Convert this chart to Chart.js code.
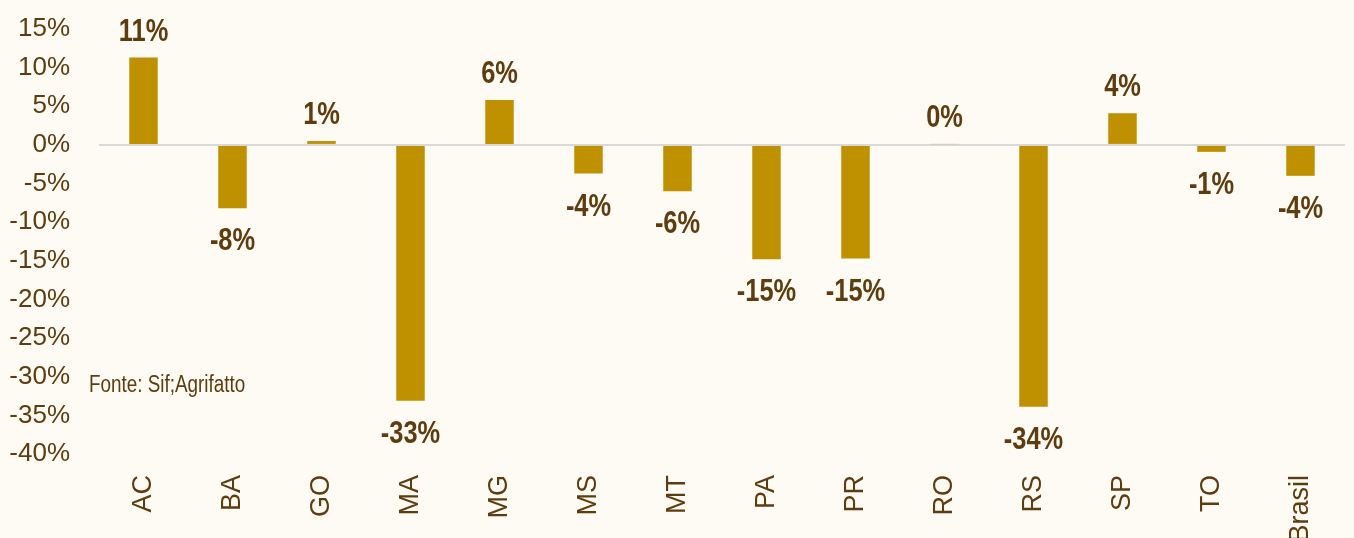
<!DOCTYPE html>
<html>
<head>
<meta charset="utf-8">
<script src="https://cdn.jsdelivr.net/npm/chart.js@4"></script>
<style>
  html, body { margin: 0; padding: 0; background: #FDFBF4; }
  #wrap { width: 1354px; height: 538px; }
</style>
</head>
<body>
<div id="wrap"><canvas id="grafico"></canvas></div>
<script>
// categorias y valores (variacion %)
const estados = ['AC', 'BA', 'GO', 'MA', 'MG', 'MS', 'MT', 'PA', 'PR', 'RO', 'RS', 'SP', 'TO', 'Brasil'];
const variacion = [11.3, -8.2, 0.5, -33.1, 5.8, -3.7, -6.0, -14.8, -14.7, 0.1, -33.9, 4.1, -0.9, -4.0];
const ticksY = [-40, -35, -30, -25, -20, -15, -10, -5, 0, 5, 10, 15];
const fuente = 'Fonte: Sif;Agrifatto';

const MARRON = '#5E3C0E';
const DORADO = '#BF9000';
const FAMILIA = "'Liberation Sans', Arial, sans-serif";
const ANGOSTO = 0.82; // la fuente original es "narrow"

// texto comprimido en horizontal
function textoAngosto(ctx, txt, x, y, align) {
  ctx.save();
  ctx.translate(x, y);
  ctx.scale(ANGOSTO, 1);
  ctx.textAlign = align;
  ctx.fillText(txt, 0, 0);
  ctx.restore();
}

// etiquetas de valor arriba / abajo de cada barra
const etiquetasPlugin = {
  id: 'etiquetas',
  afterDatasetsDraw(chart) {
    const ctx = chart.ctx;
    const meta = chart.getDatasetMeta(0);
    ctx.save();
    ctx.fillStyle = MARRON;
    ctx.font = 'bold 31px ' + FAMILIA;
    ctx.textBaseline = 'alphabetic';
    meta.data.forEach((bar, i) => {
      const v = variacion[i];
      const txt = Math.round(v) + '%';
      const y = v >= 0 ? bar.y - 17 : bar.y + 42;
      textoAngosto(ctx, txt, bar.x, y, 'center');
    });
    // nota de fuente
    ctx.font = '23px ' + FAMILIA;
    ctx.textBaseline = 'middle';
    textoAngosto(ctx, fuente, chart.chartArea.left - 10, chart.scales.y.getPixelForValue(-31.2), 'left');
    ctx.restore();
  }
};

new Chart(document.getElementById('grafico'), {
  type: 'bar',
  data: {
    labels: estados,
    datasets: [{
      data: variacion,
      backgroundColor: DORADO,
      borderWidth: 0,
      barPercentage: 0.32,
      categoryPercentage: 1
    }]
  },
  options: {
    responsive: true,
    maintainAspectRatio: false,
    animation: false,
    layout: { padding: { top: 29, right: 9, bottom: 0, left: 0 } },
    plugins: { legend: { display: false }, tooltip: { enabled: false } },
    scales: {
      x: {
        grid: { display: false },
        border: { display: false },
        afterFit: s => { s.height = 84; },
        ticks: {
          color: MARRON,
          font: { family: FAMILIA, size: 27 },
          minRotation: 90,
          maxRotation: 90,
          autoSkip: false,
          padding: 13
        }
      },
      y: {
        min: -40,
        max: 15,
        afterFit: s => { s.width = 99; },
        afterBuildTicks: s => { s.ticks = ticksY.map(v => ({ value: v })); },
        border: { display: false },
        grid: {
          drawTicks: true,
          tickLength: 29,
          tickColor: 'rgba(0,0,0,0)',
          lineWidth: 2,
          color: c => (c.tick && c.tick.value === 0 ? '#D9D9D9' : 'rgba(0,0,0,0)')
        },
        ticks: {
          color: MARRON,
          font: { family: FAMILIA, size: 26, lineHeight: 1 },
          autoSkip: false,
          padding: 0,
          callback: v => v + '%'
        }
      }
    }
  },
  plugins: [etiquetasPlugin]
});
</script>
</body>
</html>
